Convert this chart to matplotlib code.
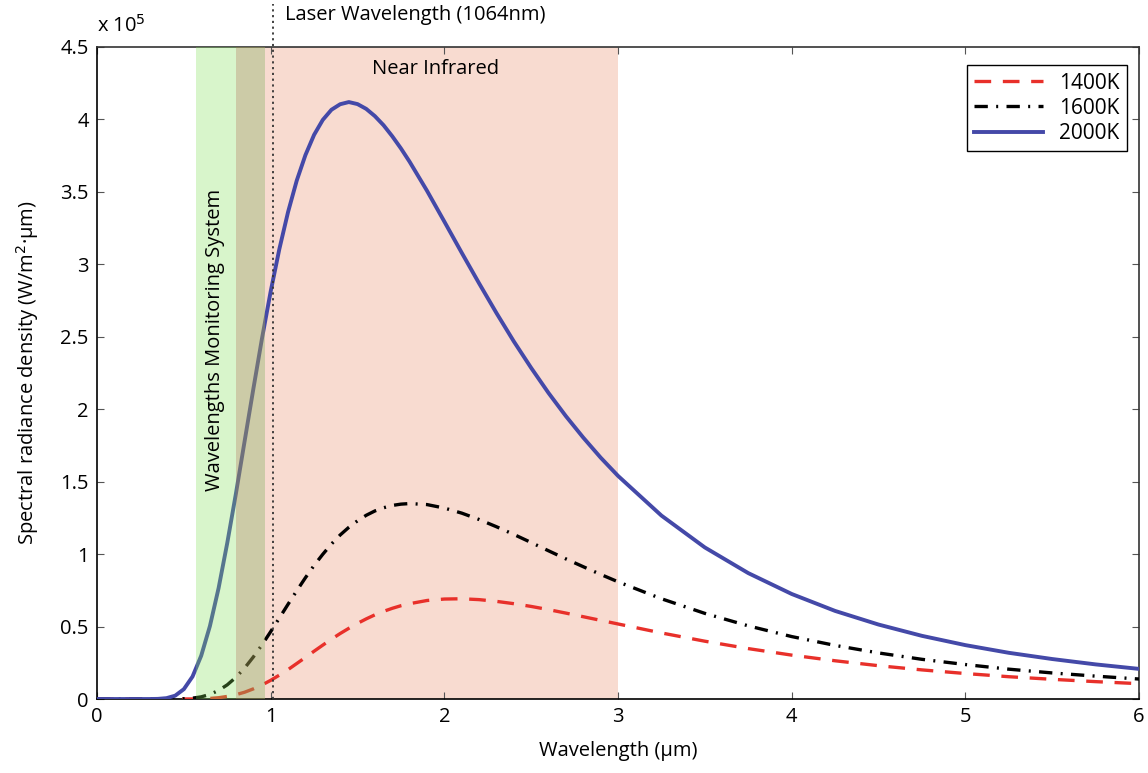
import matplotlib
matplotlib.use("Agg")
import matplotlib.pyplot as plt

plt.rcParams['font.family'] = ['Open Sans', 'DejaVu Sans']

# wavelength (um) and spectral radiance density (x 1e5 W/m^2.um)
wl = [0.0, 0.2, 0.3, 0.35, 0.4, 0.45, 0.5, 0.55, 0.6, 0.65, 0.7, 0.75, 0.8, 0.85, 0.9,
      0.95, 1.0, 1.05, 1.1, 1.15, 1.2, 1.25, 1.3, 1.35, 1.4, 1.45, 1.5, 1.55, 1.6, 1.65,
      1.7, 1.75, 1.8, 1.9, 2.0, 2.1, 2.2, 2.3, 2.4, 2.5, 2.6, 2.7, 2.8, 2.9, 3.0, 3.25,
      3.5, 3.75, 4.0, 4.25, 4.5, 4.75, 5.0, 5.25, 5.5, 5.75, 6.0]
t1400 = [0.0, 0.0, 0.0, 0.0, 0.0, 0.0, 0.0001, 0.0006, 0.002, 0.004, 0.009, 0.018, 0.030,
         0.047, 0.070, 0.097, 0.129, 0.165, 0.203, 0.245, 0.287, 0.330, 0.372, 0.413,
         0.452, 0.488, 0.522, 0.553, 0.581, 0.605, 0.626, 0.644, 0.658, 0.680, 0.690,
         0.692, 0.686, 0.674, 0.658, 0.639, 0.617, 0.593, 0.568, 0.543, 0.518, 0.456,
         0.399, 0.348, 0.303, 0.264, 0.230, 0.201, 0.176, 0.154, 0.136, 0.120, 0.106]
t1600 = [0.0, 0.0, 0.0, 0.0, 0.0, 0.0004, 0.002, 0.006, 0.015, 0.032, 0.059, 0.098, 0.150,
         0.214, 0.290, 0.374, 0.465, 0.559, 0.654, 0.747, 0.837, 0.922, 0.999, 1.070,
         1.132, 1.185, 1.230, 1.268, 1.298, 1.320, 1.336, 1.345, 1.349, 1.342, 1.318,
         1.283, 1.239, 1.189, 1.136, 1.080, 1.023, 0.967, 0.913, 0.860, 0.809, 0.692,
         0.591, 0.505, 0.431, 0.370, 0.318, 0.274, 0.238, 0.206, 0.180, 0.158, 0.138]
t2000 = [0.0, 0.0, 0.0, 0.001, 0.006, 0.023, 0.068, 0.155, 0.299, 0.503, 0.765, 1.077,
         1.419, 1.780, 2.139, 2.489, 2.813, 3.106, 3.361, 3.578, 3.754, 3.894, 3.997,
         4.067, 4.105, 4.120, 4.106, 4.073, 4.023, 3.960, 3.884, 3.800, 3.708, 3.508,
         3.295, 3.080, 2.869, 2.664, 2.468, 2.285, 2.112, 1.952, 1.804, 1.666, 1.540,
         1.266, 1.046, 0.869, 0.725, 0.608, 0.514, 0.436, 0.372, 0.319, 0.276, 0.239, 0.208]

laser_wl = 1.015
yticks = [0, 0.5, 1, 1.5, 2, 2.5, 3, 3.5, 4, 4.5]
ytick_labels = ["0", "0.5", "1", "1.5", "2", "2.5", "3", "3.5", "4", "4.5"]

fs = 14.5

fig = plt.figure(figsize=(11.48, 7.73), dpi=100)
ax = fig.add_axes([0.0845, 0.0957, 0.9077, 0.8435])

# bands
ax.axvspan(0.967, 3.0, color="#f8dbd0", zorder=0, lw=0)
ax.axvspan(0.57, 0.80, color="#80de55", alpha=0.3, zorder=4, lw=0)
ax.axvspan(0.80, 0.967, color="#9b9951", alpha=0.5, zorder=4, lw=0)

ax.plot(wl, t1400, color="#e8302a", lw=2.4, dashes=(5, 3.5), label="1400K", zorder=3)
ax.plot(wl, t1600, color="black", lw=2.4, dashes=(4, 2.5, 0.6, 2.5), label="1600K", zorder=3)
ax.plot(wl, t2000, color="#4449a8", lw=2.8, label="2000K", zorder=3)

ax.axvline(laser_wl, ymin=0, ymax=1.066, color="#333333", ls=(0, (1.2, 2.0)), lw=1.3,
           clip_on=False, zorder=5)
ax.text(1.08, 1.049, "Laser Wavelength (1064nm)", transform=ax.get_xaxis_transform(),
        fontsize=fs, va="center", ha="left")
ax.text(1.95, 4.35, "Near Infrared", fontsize=fs, ha="center", va="center")
ax.text(0.68, 2.48, "Wavelengths Monitoring System", rotation=90, fontsize=fs,
        ha="center", va="center", zorder=6)

ax.set_xlim(0, 6)
ax.set_ylim(0, 4.5)
ax.set_xticks(range(7))
ax.set_yticks(yticks)
ax.set_yticklabels(ytick_labels)
ax.tick_params(direction="in", top=True, right=True, length=5, labelsize=fs,
               color="#555555", pad=6)
for s in ax.spines.values():
    s.set_linewidth(1.2)
    s.set_color("#333333")
ax.spines["left"].set_color("black")
ax.spines["bottom"].set_color("black")

ax.text(0.0, 1.015, "x 10$^{5}$", transform=ax.transAxes, fontsize=fs,
        ha="left", va="bottom")
ax.set_xlabel("Wavelength (µm)", fontsize=fs, labelpad=10)
ax.set_ylabel("Spectral radiance density (W/m$^2$·µm)", fontsize=fs, labelpad=14)

leg = ax.legend(loc="upper right", bbox_to_anchor=(0.9985, 0.988), fontsize=15,
                fancybox=False, framealpha=1, edgecolor="black", handlelength=3.3,
                borderpad=0.35, labelspacing=0.2)
leg.get_frame().set_linewidth(1.0)
leg.set_zorder(10)

fig.savefig("out.png", dpi=100)
